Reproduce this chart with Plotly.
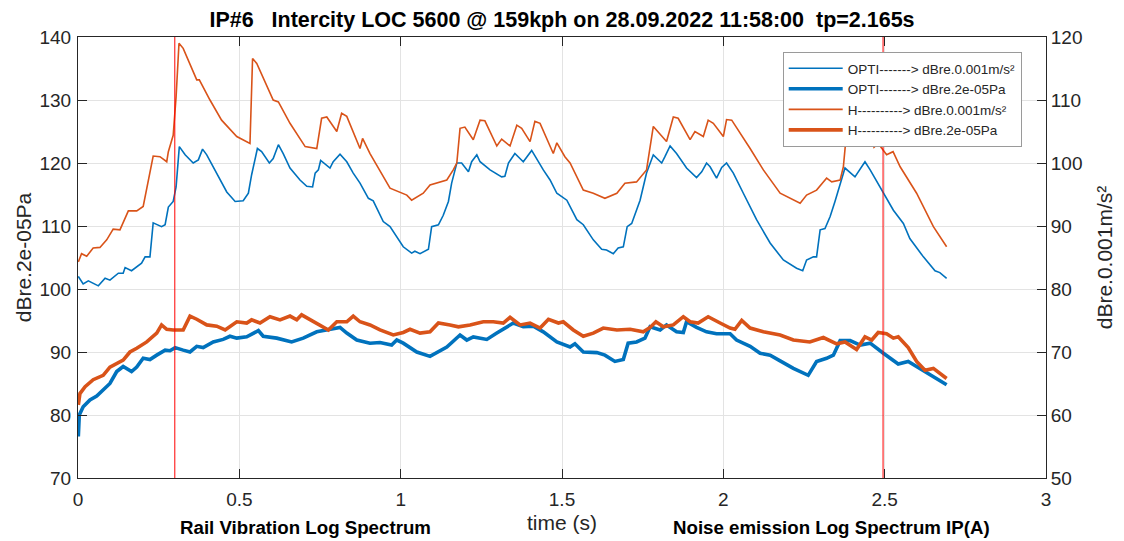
import plotly.graph_objects as go

# ---------------- data ----------------
# OPTI, rail vibration (dBre.0.001m/s^2) -> right axis
t_opti_acc = [0.001, 0.016, 0.032, 0.063, 0.084, 0.099, 0.125, 0.140, 0.146, 0.166, 0.197, 0.208, 0.223, 0.233,
              0.259, 0.270, 0.280, 0.295, 0.304, 0.314, 0.332, 0.357, 0.373, 0.386, 0.399, 0.430, 0.461, 0.487,
              0.512, 0.528, 0.538, 0.556, 0.569, 0.593, 0.605, 0.621, 0.636, 0.657, 0.688, 0.709, 0.727, 0.735,
              0.745, 0.752, 0.781, 0.791, 0.812, 0.833, 0.853, 0.874, 0.900, 0.915, 0.946, 0.967, 1.008, 1.034,
              1.044, 1.060, 1.086, 1.096, 1.117, 1.132, 1.148, 1.158, 1.174, 1.189, 1.210, 1.220, 1.236, 1.246,
              1.277, 1.313, 1.323, 1.334, 1.354, 1.380, 1.406, 1.442, 1.463, 1.484, 1.504, 1.515, 1.546, 1.566,
              1.597, 1.623, 1.638, 1.659, 1.674, 1.690, 1.702, 1.716, 1.742, 1.762, 1.783, 1.809, 1.819, 1.835,
              1.855, 1.886, 1.917, 1.933, 1.948, 1.959, 1.979, 1.995, 2.010, 2.031, 2.062, 2.103, 2.145, 2.186,
              2.227, 2.246, 2.258, 2.279, 2.289, 2.300, 2.315, 2.331, 2.346, 2.362, 2.377, 2.408, 2.429, 2.439,
              2.455, 2.496, 2.527, 2.558, 2.578, 2.620, 2.656, 2.671, 2.692]
v_opti_acc = [82.0, 80.8, 81.3, 80.5, 81.7, 81.4, 82.5, 82.5, 83.4, 82.9, 84.1, 85.1, 85.1, 90.5,
              89.9, 90.2, 93.0, 93.9, 96.2, 102.6, 101.3, 100.0, 100.5, 102.2, 101.3, 98.4, 95.4, 93.9,
              94.0, 95.2, 98.1, 102.3, 101.8, 100.0, 100.7, 102.9, 101.5, 99.2, 97.3, 96.3, 96.2, 98.4,
              98.9, 100.4, 99.2, 100.2, 101.4, 100.2, 98.4, 96.8, 94.4, 94.0, 90.7, 89.9, 86.7, 85.7,
              86.0, 85.6, 86.3, 89.9, 90.2, 91.7, 93.9, 96.8, 100.0, 100.0, 98.6, 100.2, 101.3, 100.2,
              98.9, 97.8, 97.9, 100.0, 101.5, 100.2, 102.0, 98.9, 97.3, 95.2, 94.4, 94.1, 91.0, 90.2,
              87.8, 86.3, 86.2, 85.6, 86.5, 86.7, 89.9, 90.4, 94.1, 98.4, 101.3, 100.0, 101.0, 102.7,
              101.5, 99.2, 97.7, 98.6, 100.0, 99.4, 97.6, 99.3, 100.0, 98.4, 95.2, 91.0, 87.3, 84.6,
              83.3, 82.9, 84.6, 85.1, 85.1, 89.4, 89.6, 91.5, 93.9, 96.8, 99.2, 97.8, 99.4, 100.2,
              98.9, 95.2, 92.5, 90.4, 88.0, 85.1, 82.9, 82.6, 81.7]

# OPTI, noise (dBre.2e-05Pa) -> left axis
t_opti_pa = [0.001, 0.004, 0.016, 0.037, 0.058, 0.078, 0.099, 0.120, 0.140, 0.166, 0.182, 0.202, 0.223, 0.244,
             0.270, 0.285, 0.301, 0.326, 0.347, 0.368, 0.388, 0.419, 0.450, 0.471, 0.492, 0.523, 0.559, 0.574,
             0.616, 0.662, 0.698, 0.740, 0.781, 0.812, 0.833, 0.864, 0.905, 0.936, 0.972, 0.988, 1.008, 1.050,
             1.091, 1.112, 1.143, 1.184, 1.205, 1.225, 1.267, 1.298, 1.318, 1.349, 1.380, 1.411, 1.442, 1.484,
             1.525, 1.540, 1.566, 1.608, 1.633, 1.664, 1.690, 1.705, 1.731, 1.757, 1.773, 1.804, 1.824, 1.855,
             1.876, 1.886, 1.917, 1.948, 1.979, 2.021, 2.041, 2.083, 2.114, 2.145, 2.176, 2.217, 2.263, 2.289,
             2.320, 2.341, 2.362, 2.393, 2.424, 2.455, 2.496, 2.517, 2.542, 2.573, 2.610, 2.651, 2.692]
v_opti_pa = [76.6, 80.0, 81.3, 82.4, 83.0, 84.0, 85.0, 86.9, 87.7, 86.9, 87.6, 89.0, 88.8, 89.5,
             90.3, 90.2, 90.7, 90.3, 90.0, 90.9, 90.7, 91.6, 92.0, 92.5, 92.2, 92.4, 93.4, 92.5,
             92.2, 91.6, 92.2, 93.2, 93.6, 93.9, 93.0, 91.9, 91.4, 91.5, 91.1, 91.9, 91.4, 90.0,
             89.3, 89.9, 90.8, 92.7, 91.9, 92.4, 92.0, 93.0, 93.6, 94.6, 94.0, 94.1, 93.2, 91.6,
             90.8, 91.3, 90.0, 89.9, 89.5, 88.5, 88.8, 91.4, 91.6, 92.2, 94.0, 93.5, 94.3, 93.2,
             93.1, 94.8, 93.9, 93.2, 92.9, 92.9, 91.9, 90.9, 89.8, 89.5, 88.6, 87.4, 86.3, 88.5,
             89.0, 89.5, 91.8, 91.8, 91.1, 91.4, 89.8, 89.0, 88.1, 88.5, 87.4, 86.1, 84.8]

# H, rail vibration (dBre.0.001m/s^2) -> right axis
t_h_acc = [0.001, 0.011, 0.027, 0.047, 0.068, 0.089, 0.109, 0.130, 0.156, 0.182, 0.202, 0.218, 0.233, 0.254,
           0.275, 0.280, 0.295, 0.304, 0.313, 0.326, 0.368, 0.376, 0.409, 0.445, 0.492, 0.533, 0.541, 0.554,
           0.605, 0.621, 0.657, 0.704, 0.740, 0.755, 0.771, 0.802, 0.817, 0.833, 0.874, 0.882, 0.905, 0.967,
           0.993, 1.019, 1.034, 1.070, 1.091, 1.122, 1.143, 1.163, 1.174, 1.184, 1.199, 1.225, 1.246, 1.261,
           1.298, 1.313, 1.339, 1.360, 1.375, 1.401, 1.416, 1.432, 1.473, 1.484, 1.509, 1.525, 1.566, 1.597,
           1.633, 1.670, 1.695, 1.731, 1.762, 1.783, 1.824, 1.845, 1.860, 1.897, 1.912, 1.938, 1.953, 1.969,
           2.000, 2.010, 2.026, 2.083, 2.124, 2.176, 2.227, 2.238, 2.258, 2.289, 2.310, 2.320, 2.336, 2.362,
           2.372, 2.382, 2.393, 2.408, 2.418, 2.430, 2.448, 2.467, 2.480, 2.506, 2.526, 2.548, 2.599, 2.651,
           2.692]
v_h_acc = [84.3, 85.6, 85.2, 86.5, 86.6, 87.8, 89.5, 89.4, 92.4, 92.4, 93.1, 97.3, 101.1, 101.0,
           100.2, 101.8, 104.4, 110.5, 119.0, 118.2, 113.2, 113.2, 110.0, 106.8, 104.2, 103.1, 116.6, 115.8,
           110.0, 109.7, 106.3, 102.6, 102.3, 107.1, 107.3, 105.0, 107.9, 107.4, 102.3, 103.9, 101.5, 96.0,
           95.4, 94.9, 94.1, 95.2, 96.5, 97.0, 97.3, 98.9, 100.0, 105.5, 105.7, 103.7, 106.8, 106.7,
           102.7, 103.8, 102.7, 106.0, 105.5, 103.4, 106.6, 106.3, 101.5, 103.2, 101.0, 100.0, 95.7, 95.2,
           94.4, 95.2, 96.8, 97.0, 98.9, 105.8, 103.4, 107.3, 107.1, 103.7, 105.0, 104.2, 106.8, 106.3,
           104.2, 106.9, 106.8, 102.3, 98.9, 95.2, 93.9, 93.6, 94.9, 95.7, 97.0, 97.6, 97.0, 97.3,
           99.4, 104.7, 111.0, 109.5, 111.0, 104.0, 106.0, 102.5, 103.1, 101.3, 101.8, 99.4, 95.2, 89.9,
           86.7]

# H, noise (dBre.2e-05Pa) -> left axis
t_h_pa = [0.001, 0.006, 0.022, 0.047, 0.078, 0.099, 0.140, 0.161, 0.182, 0.213, 0.244, 0.259, 0.275, 0.295,
          0.326, 0.347, 0.368, 0.399, 0.430, 0.456, 0.492, 0.523, 0.538, 0.564, 0.595, 0.626, 0.657, 0.678,
          0.693, 0.719, 0.750, 0.776, 0.802, 0.833, 0.853, 0.874, 0.905, 0.936, 0.977, 1.008, 1.029, 1.060,
          1.091, 1.117, 1.153, 1.179, 1.215, 1.256, 1.287, 1.318, 1.339, 1.370, 1.401, 1.432, 1.458, 1.489,
          1.504, 1.535, 1.566, 1.597, 1.628, 1.670, 1.711, 1.752, 1.773, 1.791, 1.814, 1.845, 1.876, 1.897,
          1.922, 1.953, 1.990, 2.021, 2.036, 2.057, 2.083, 2.124, 2.176, 2.217, 2.268, 2.310, 2.351, 2.377,
          2.413, 2.439, 2.460, 2.480, 2.506, 2.527, 2.542, 2.573, 2.599, 2.625, 2.651, 2.671, 2.692]
v_h_pa = [81.6, 83.4, 84.5, 85.6, 86.3, 87.6, 88.7, 90.0, 90.6, 91.6, 93.0, 94.3, 93.6, 93.5,
          93.5, 95.7, 95.2, 94.3, 94.1, 93.5, 94.8, 94.6, 95.1, 94.6, 95.6, 95.1, 95.7, 95.1,
          95.9, 95.1, 94.3, 93.5, 94.8, 94.8, 95.7, 94.8, 94.3, 93.5, 92.7, 93.1, 93.6, 93.0,
          93.2, 94.6, 94.3, 94.0, 94.3, 94.8, 94.8, 94.6, 95.5, 94.3, 94.6, 93.8, 95.2, 94.6,
          94.8, 93.5, 92.5, 93.0, 93.8, 93.5, 93.6, 93.2, 93.9, 94.8, 94.0, 94.3, 95.6, 94.8,
          94.6, 95.6, 94.6, 93.8, 93.6, 95.0, 93.8, 93.2, 92.7, 91.9, 91.6, 92.3, 91.3, 91.6,
          90.4, 92.4, 91.9, 93.1, 92.9, 92.2, 92.4, 90.7, 88.5, 87.1, 87.4, 86.6, 85.8]

event_times = [0.3, 2.495]

series_names = ["OPTI-------> dBre.0.001m/s²", "OPTI-------> dBre.2e-05Pa",
                "H----------> dBre.0.001m/s²", "H----------> dBre.2e-05Pa"]

title_text = "IP#6   Intercity LOC 5600 @ 159kph on 28.09.2022 11:58:00  tp=2.165s"
x_ticks = [0, 0.5, 1, 1.5, 2, 2.5, 3]
x_tick_text = ["0", "0.5", "1", "1.5", "2", "2.5", "3"]
left_ticks = [70, 80, 90, 100, 110, 120, 130, 140]
right_ticks = [50, 60, 70, 80, 90, 100, 110, 120]

# ---------------- figure ----------------
BLUE = "#0072BD"
ORANGE = "#D95319"
AX = "#262626"
FONT = "Liberation Sans, Arial, Helvetica, sans-serif"

# the page body keeps an 8 px margin, so the figure is 8 px smaller on each axis
W, H = 1116, 533

fig = go.Figure()
fig.add_trace(go.Scatter(x=t_opti_acc, y=v_opti_acc, name=series_names[0], mode="lines",
                         line=dict(color=BLUE, width=1.6), yaxis="y2"))
fig.add_trace(go.Scatter(x=t_opti_pa, y=v_opti_pa, name=series_names[1], mode="lines",
                         line=dict(color=BLUE, width=3.6), yaxis="y"))
fig.add_trace(go.Scatter(x=t_h_acc, y=v_h_acc, name=series_names[2], mode="lines",
                         line=dict(color=ORANGE, width=1.6), yaxis="y2"))
fig.add_trace(go.Scatter(x=t_h_pa, y=v_h_pa, name=series_names[3], mode="lines",
                         line=dict(color=ORANGE, width=3.6), yaxis="y"))

for te in event_times:
    fig.add_shape(type="line", xref="x", yref="paper", x0=te, x1=te, y0=0, y1=1,
                  line=dict(color="#FF0000", width=1), layer="above")

fig.update_layout(
    width=W, height=H,
    margin=dict(l=70, r=78, t=29, b=63, autoexpand=False),
    paper_bgcolor="white", plot_bgcolor="white",
    font=dict(family=FONT, size=19, color=AX),
    title=dict(text="<b>" + title_text + "</b>", x=(70 + 484) / W, xanchor="center",
               y=1 - 11 / H, yanchor="middle", font=dict(size=21.5, color="black")),
    showlegend=True,
    legend=dict(x=0.728, y=0.966, xanchor="left", yanchor="top",
                bgcolor="white", bordercolor="#9a9a9a", borderwidth=1,
                font=dict(size=13.5, color=AX), tracegroupgap=0, itemwidth=54),
    xaxis=dict(range=[0, 3], tickvals=x_ticks, ticktext=x_tick_text, automargin=False,
               showgrid=True, gridcolor="#e3e3e3", gridwidth=1, zeroline=False,
               showline=True, linecolor=AX, linewidth=1, mirror="ticks",
               ticks="inside", ticklen=9, tickcolor=AX, ticklabelstandoff=4,
               title=dict(text="time (s)", standoff=6, font=dict(size=21))),
    yaxis=dict(range=[70, 140], tickvals=left_ticks, automargin=False,
               showgrid=True, gridcolor="#e3e3e3", gridwidth=1, zeroline=False,
               showline=True, linecolor=AX, linewidth=1,
               ticks="inside", ticklen=9, tickcolor=AX, ticklabelstandoff=2,
               title=dict(text="dBre.2e-05Pa", standoff=2, font=dict(size=21))),
    yaxis2=dict(range=[50, 120], tickvals=right_ticks, overlaying="y", side="right", automargin=False,
                showgrid=False, zeroline=False,
                showline=True, linecolor=AX, linewidth=1,
                ticks="inside", ticklen=9, tickcolor=AX,
                title=dict(text="dBre.0.001m/s²", standoff=15, font=dict(size=21))),
    annotations=[
        dict(text="<b>Rail Vibration Log Spectrum</b>", xref="paper", yref="paper",
             x=0.2355, y=-0.1406, xanchor="center", yanchor="bottom", showarrow=False,
             font=dict(size=18.7, color="black")),
        dict(text="<b>Noise emission Log Spectrum IP(A)</b>", xref="paper", yref="paper",
             x=0.778, y=-0.1406, xanchor="center", yanchor="bottom", showarrow=False,
             font=dict(size=18.7, color="black")),
    ],
)

fig.write_html("out.html")
